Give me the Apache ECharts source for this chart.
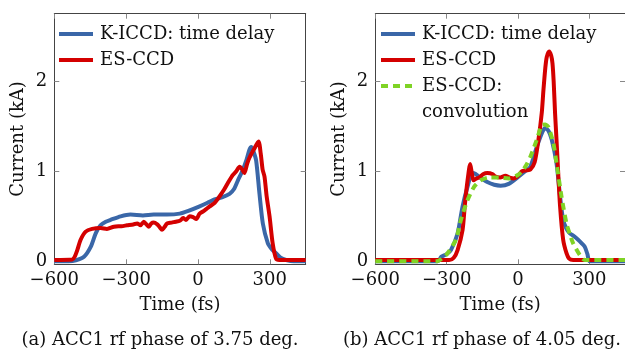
<!DOCTYPE html>
<html><head><meta charset="utf-8">
<script src="https://cdn.jsdelivr.net/npm/echarts@6/dist/echarts.min.js"></script>
<style>html,body{margin:0;padding:0;background:#fff}#c{width:625px;height:352px}</style>
</head><body><div id="c"></div>
<script>
// Panel (a): ACC1 rf phase 3.75 deg
var aKiccdT = [-600,-540,-510,-476,-448,-427,-407,-385,-365,-323,-282,-230,-185,-129,-76,-40,7,40,62,100,132,150,167,185,202,215,223,232,243,257,271,292,310,326,345,368,400,450];
var aKiccdI = [0,0,0.01,0.05,0.16,0.31,0.40,0.44,0.46,0.50,0.52,0.51,0.52,0.52,0.53,0.56,0.61,0.65,0.68,0.71,0.75,0.80,0.90,1.00,1.12,1.24,1.27,1.22,1.12,0.75,0.42,0.20,0.13,0.09,0.04,0.015,0,0];
var aEsccdT = [-600,-525,-515,-504,-490,-469,-442,-407,-380,-351,-320,-296,-270,-254,-240,-226,-215,-205,-195,-185,-170,-160,-150,-140,-129,-110,-94,-76,-62,-50,-35,-20,-7,7,25,49,70,90,110,125,146,160,174,185,194,205,215,235,253,262,270,278,287,299,312,326,340,450];
var aEsccdI = [0.015,0.02,0.05,0.125,0.24,0.33,0.36,0.37,0.36,0.385,0.39,0.40,0.41,0.42,0.40,0.44,0.41,0.385,0.42,0.43,0.41,0.38,0.35,0.38,0.42,0.43,0.44,0.45,0.48,0.46,0.50,0.49,0.47,0.53,0.56,0.61,0.65,0.72,0.80,0.87,0.96,1.00,1.05,1.02,0.98,1.08,1.15,1.25,1.33,1.20,1.02,0.94,0.72,0.50,0.20,0.03,0.015,0.015];
// Panel (b): ACC1 rf phase 4.05 deg
var bKiccdT = [-600,-337,-323,-300,-282,-254,-233,-212,-192,-178,-164,-129,-100,-73,-39,2,30,52,79,100,114,128,142,162,177,190,204,218,235,253,268,281,292,302,450];
var bKiccdI = [0,0,0.05,0.08,0.125,0.31,0.61,0.83,0.98,0.97,0.94,0.88,0.85,0.84,0.86,0.94,1.0,1.05,1.27,1.42,1.48,1.45,1.35,1.09,0.72,0.46,0.36,0.31,0.28,0.24,0.20,0.16,0.08,0.0,0];
var bEsccdT = [-600,-289,-270,-254,-233,-223,-212,-201,-194,-187,-175,-164,-145,-129,-108,-94,-75,-53,-35,-18,0,17,35,52,70,86,100,107,115,121,131,140,145,150,156,162,167,177,190,204,215,232,450];
var bEsccdI = [0.015,0.015,0.04,0.125,0.35,0.64,0.90,1.08,0.98,0.90,0.92,0.93,0.97,0.98,0.97,0.94,0.93,0.95,0.93,0.92,0.95,1.0,1.01,1.02,1.1,1.35,1.65,1.9,2.15,2.27,2.33,2.28,2.2,2.0,1.64,1.35,1.09,0.61,0.24,0.09,0.03,0.015,0.015];
var bConvT = [-600,-340,-320,-296,-261,-240,-212,-184,-157,-122,-80,-39,0,17,35,52,79,100,115,128,149,162,183,204,218,232,260,281,450];
var bConvI = [0,0,0.03,0.09,0.24,0.46,0.68,0.83,0.90,0.93,0.93,0.92,0.96,1.0,1.07,1.16,1.35,1.51,1.52,1.49,1.31,1.09,0.72,0.42,0.30,0.2,0.07,0.015,0.015];

var xTicks = [-600,-300,0,300];
var yTicks = [0,1,2];
var seriesNames = ['K-ICCD: time delay','ES-CCD','ES-CCD:','convolution'];
var xName = 'Time (fs)';
var yName = 'Current (kA)';
var captions = ['(a) ACC1 rf phase of 3.75 deg.','(b) ACC1 rf phase of 4.05 deg.'];

function pairs(t, v){ return t.map(function(x,i){ return [x, v[i]]; }); }

var FONT = 'DejaVu Serif';
var FS = 18;
var BLUE = '#3a67a8', RED = '#d40000', GREEN = '#7fd325';
var AX = '#444', TK = '#888';

var chart = echarts.init(document.getElementById('c'), null, {renderer:'canvas'});

function xAx(gi, pos, show){
  return {type:'value', gridIndex:gi, position:pos, min:-600, max:450,
    axisLine:{show:true, onZero:false, lineStyle:{color:AX, width:1}},
    axisTick:{show:true, inside:true, length:5, customValues:xTicks, lineStyle:{color:TK}},
    axisLabel:{show:show, customValues:xTicks, margin:7, color:'#111', fontFamily:FONT, fontSize:FS,
      formatter:function(v){ return String(v).replace('-','\u2212'); }},
    splitLine:{show:false},
    name: show ? xName : '', nameLocation:'middle', nameGap:32,
    nameTextStyle:{color:'#111', fontFamily:FONT, fontSize:FS}};
}
function yAx(gi, pos, show){
  return {type:'value', gridIndex:gi, position:pos, min:-0.033, max:2.75,
    axisLine:{show:true, onZero:false, lineStyle:{color:AX, width:1}},
    axisTick:{show:true, inside:true, length:5, customValues:yTicks, lineStyle:{color:TK}},
    axisLabel:{show:show, customValues:yTicks, margin:7, color:'#111', fontFamily:FONT, fontSize:FS},
    splitLine:{show:false},
    name: show ? yName : '', nameLocation:'middle', nameGap:27,
    nameTextStyle:{color:'#111', fontFamily:FONT, fontSize:FS}};
}

function line(name, xi, yi, data, color, dashed){
  return {type:'line', name:name, xAxisIndex:xi, yAxisIndex:yi, data:data, showSymbol:false, symbol:'none',
    smooth:0.25, clip:true, animation:false,
    lineStyle:{color:color, width:4, type: dashed ? [7,5] : 'solid', cap:'butt', join:'round'}};
}

function legendItem(x, y, color, dashed, text){
  var items = [{type:'line', shape:{x1:x, y1:y, x2:x+34, y2:y},
      style:{stroke:color, lineWidth:4, lineDash: dashed ? [7,5] : null}}];
  if (text) items.push({type:'text', x:x+41, y:y, style:{text:text, fill:'#111', font:FS+'px "'+FONT+'"', verticalAlign:'middle'}});
  return items;
}

var graphics = [].concat(
  legendItem(59, 34, BLUE, false, seriesNames[0]),
  legendItem(59, 60, RED, false, seriesNames[1]),
  legendItem(381, 34, BLUE, false, seriesNames[0]),
  legendItem(381, 60, RED, false, seriesNames[1]),
  legendItem(381, 86, GREEN, true, seriesNames[2]),
  [{type:'text', x:422, y:112, style:{text:seriesNames[3], fill:'#111', font:FS+'px "'+FONT+'"', verticalAlign:'middle'}},
   {type:'text', x:160, y:340, style:{text:captions[0], fill:'#111', font:FS+'px "'+FONT+'"', align:'center', verticalAlign:'middle'}},
   {type:'text', x:482, y:340, style:{text:captions[1], fill:'#111', font:FS+'px "'+FONT+'"', align:'center', verticalAlign:'middle'}}]
);

chart.setOption({
  backgroundColor:'#fff',
  animation:false,
  grid:[{left:54.3, top:13.7, width:251.4, height:250.6},
        {left:375.3, top:13.7, width:252, height:250.6}],
  xAxis:[xAx(0,'bottom',true), xAx(0,'top',false), xAx(1,'bottom',true), xAx(1,'top',false)],
  yAxis:[yAx(0,'left',true), yAx(0,'right',false), yAx(1,'left',true), yAx(1,'right',false)],
  series:[
    line(seriesNames[0], 0, 0, pairs(aKiccdT, aKiccdI), BLUE, false),
    line(seriesNames[1], 0, 0, pairs(aEsccdT, aEsccdI), RED, false),
    line(seriesNames[0], 2, 2, pairs(bKiccdT, bKiccdI), BLUE, false),
    line(seriesNames[1], 2, 2, pairs(bEsccdT, bEsccdI), RED, false),
    line(seriesNames[2] + ' ' + seriesNames[3], 2, 2, pairs(bConvT, bConvI), GREEN, true)
  ],
  graphic: graphics
});
</script></body></html>
